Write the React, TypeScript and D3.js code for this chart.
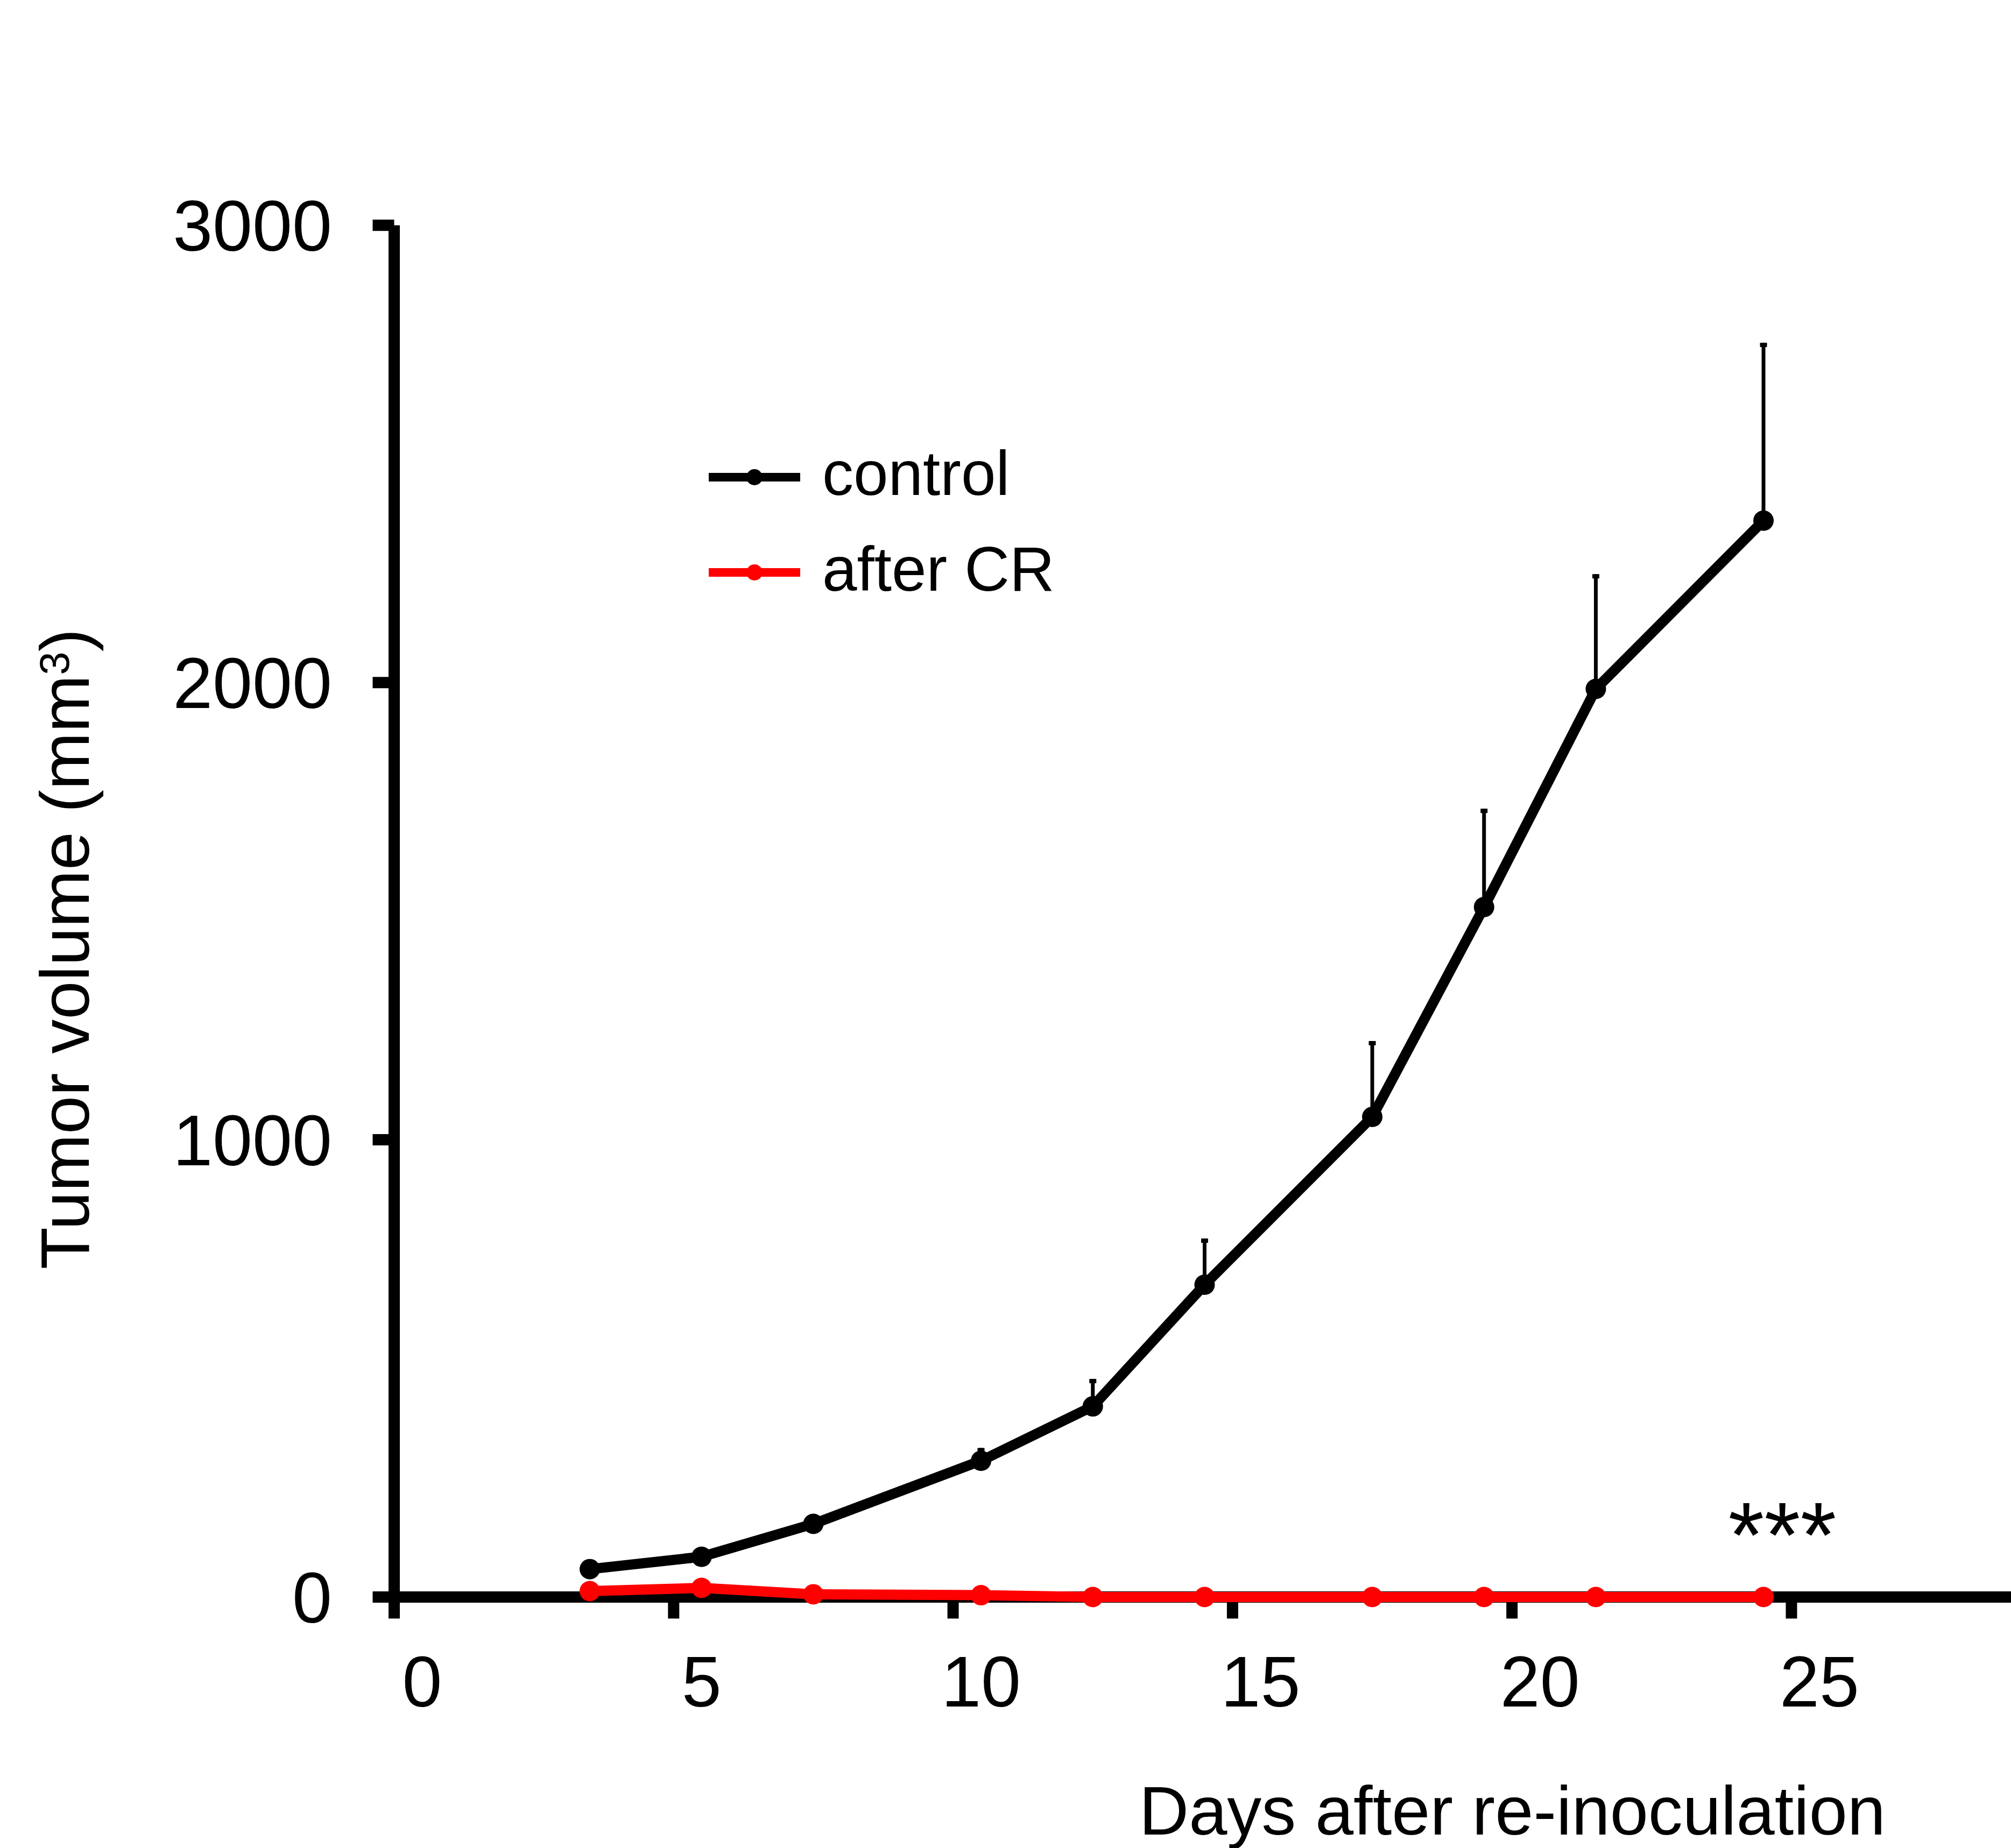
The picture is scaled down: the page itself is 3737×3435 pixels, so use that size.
import React from 'react';
import * as d3 from 'd3';

const days = [3.5, 5.5, 7.5, 10.5, 12.5, 14.5, 17.5, 19.5, 21.5, 24.5];
const controlMean = [61, 88, 160, 298, 417, 683, 1050, 1509, 1986, 2354];
const controlSem = [0, 0, 0, 28, 60, 101, 166, 215, 251, 389];
const afterCRMean = [13, 20, 6, 4, 0, 0, 0, 0, 0, 0];
const xTicks = [0, 5, 10, 15, 20, 25];
const yTicks = [0, 1000, 2000, 3000];
const seriesNames = ['control', 'after CR'];
const seriesColors = ['#000000', '#ff0000'];

const W = 3737;
const H = 3435;
const FONT = 'Liberation Sans, Arial, Helvetica, sans-serif';

export default function App() {
  const x = d3.scaleLinear().domain([0, 25]).range([732.5, 3329]);
  const y = d3.scaleLinear().domain([0, 3000]).range([2968.5, 418.7]);
  const line = d3
    .line<[number, number]>()
    .x((d) => x(d[0]))
    .y((d) => y(d[1]));

  const ctrl: [number, number][] = days.map((d, i) => [d, controlMean[i]]);
  const cr: [number, number][] = days.map((d, i) => [d, afterCRMean[i]]);
  const series = [ctrl, cr];

  const axisW = 21;
  const tickLen = 40;
  const x0 = x(0);
  const y0 = y(0);

  return (
    <svg
      width={W}
      height={H}
      viewBox={`0 0 ${W} ${H}`}
      style={{ position: 'absolute', left: 0, top: 0, background: '#fff' }}
      fontFamily={FONT}
    >
      <rect x={0} y={0} width={W} height={H} fill="#fff" />
      {/* axes */}
      <line x1={x0} x2={x0} y1={y(3000)} y2={y0} stroke="#000" strokeWidth={axisW} />
      <line x1={x0 - axisW / 2} x2={W} y1={y0} y2={y0} stroke="#000" strokeWidth={axisW} />
      {yTicks.map((t) => (
        <g key={'yt' + t}>
          <line x1={x0 - tickLen} x2={x0} y1={y(t)} y2={y(t)} stroke="#000" strokeWidth={axisW} />
          <text x={617} y={y(t) + 47} fontSize={133} textAnchor="end" fill="#000">
            {t}
          </text>
        </g>
      ))}
      {xTicks.map((t) => (
        <g key={'xt' + t}>
          <line x1={x(t)} x2={x(t)} y1={y0} y2={y0 + tickLen} stroke="#000" strokeWidth={axisW} />
          <text x={x(t) + 52} y={3172} fontSize={133} textAnchor="middle" fill="#000">
            {t}
          </text>
        </g>
      ))}
      {/* axis titles */}
      <text x={3504} y={3410} fontSize={128} textAnchor="end" fill="#000">
        Days after re-inoculation
      </text>
      <text transform="translate(165,1764) rotate(-90)" fontSize={128} textAnchor="middle" fill="#000">
        Tumor volume (mm
        <tspan dy={-37} fontSize={78}>3</tspan>
        <tspan dy={37}>)</tspan>
      </text>
      {/* error bars */}
      {days.map((d, i) =>
        controlSem[i] > 0 ? (
          <g key={'eb' + i}>
            <line
              x1={x(d)}
              x2={x(d)}
              y1={y(controlMean[i])}
              y2={y(controlMean[i] + controlSem[i])}
              stroke="#000"
              strokeWidth={7}
            />
            <line
              x1={x(d) - 6.5}
              x2={x(d) + 6.5}
              y1={y(controlMean[i] + controlSem[i]) + 4}
              y2={y(controlMean[i] + controlSem[i]) + 4}
              stroke="#000"
              strokeWidth={8}
            />
          </g>
        ) : null
      )}
      {/* lines */}
      {series.map((s, k) => (
        <path
          key={'ln' + k}
          d={line(s) || ''}
          fill="none"
          stroke={seriesColors[k]}
          strokeWidth={19}
          strokeLinejoin="round"
        />
      ))}
      {series.map((s, k) =>
        s.map((p, i) => (
          <circle key={'pt' + k + '-' + i} cx={x(p[0])} cy={y(p[1])} r={19} fill={seriesColors[k]} />
        ))
      )}
      {/* significance */}
      <text x={3312} y={2913} fontSize={172} textAnchor="middle" fill="#000">
        ***
      </text>
      {/* legend */}
      {seriesNames.map((name, k) => {
        const ly = [887, 1064][k];
        const tb = [920, 1098][k];
        return (
          <g key={'lg' + k}>
            <line x1={1317} x2={1487} y1={ly} y2={ly} stroke={seriesColors[k]} strokeWidth={16} />
            <circle cx={1402} cy={ly} r={15} fill={seriesColors[k]} />
            <text x={1528} y={tb} fontSize={116} fill="#000">
              {name}
            </text>
          </g>
        );
      })}
    </svg>
  );
}
